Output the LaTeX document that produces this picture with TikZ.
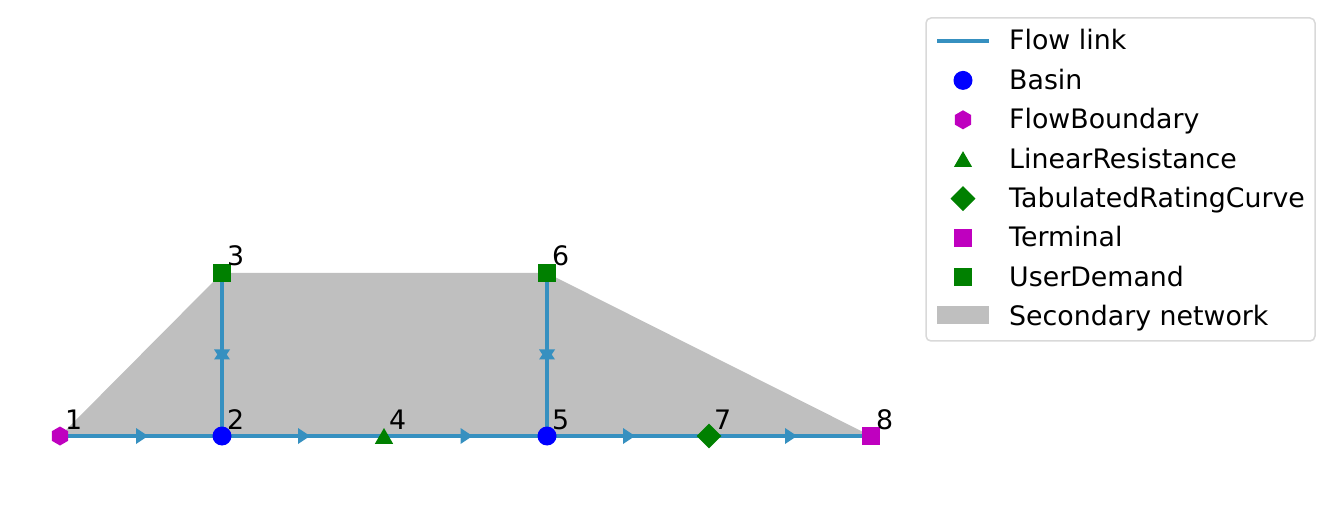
\documentclass[tikz,border=0pt]{standalone}
\usepackage{fontspec}
\setmainfont{DejaVu Sans}
\usepackage{xcolor}
\usepackage{tikz}
\usetikzlibrary{shapes.geometric, decorations.markings, backgrounds}
\definecolor{linkblue}{RGB}{54,144,192}
\definecolor{bndmag}{RGB}{191,0,191}
\definecolor{demgreen}{RGB}{0,128,0}
\definecolor{secgray}{RGB}{191,191,191}
\definecolor{legframe}{RGB}{217,217,217}

\begin{document}
\begin{tikzpicture}[x=1pt, y=-1pt,
        every node/.style={font=\fontsize{26.8}{32}\selectfont},
        num/.style={anchor=base west, xshift=5pt, yshift=7pt, inner sep=0pt},
        basin/.style={circle, fill=blue, minimum size=19pt, inner sep=0pt},
        boundary/.style={regular polygon, regular polygon sides=6, shape border rotate=30, fill=bndmag, minimum size=19pt, inner sep=0pt},
        resist/.style={regular polygon, regular polygon sides=3, fill=demgreen, minimum size=21pt, inner sep=0pt, yshift=-2.5pt},
        rating/.style={diamond, aspect=1, fill=demgreen, minimum size=25pt, inner sep=0pt},
        terminal/.style={rectangle, fill=bndmag, minimum size=18pt, inner sep=0pt},
        demand/.style={rectangle, fill=demgreen, minimum size=18pt, inner sep=0pt},
        link/.style={line width=4pt, linkblue, postaction={decorate},
            decoration={markings, mark=at position 0.5 with {\fill[linkblue] (7pt,0pt) -- (-5pt,8pt) -- (-5pt,-8pt) -- cycle;}}},
        legtext/.style={anchor=base west, inner sep=0pt}]
    \useasboundingbox (0,0) rectangle (1334,521);
    \node[boundary] (n1) at (60,436) {};
    \node[basin] (n2) at (222,436) {};
    \node[demand] (n3) at (222,273) {};
    \node[resist] (n4) at (384,436) {};
    \node[basin] (n5) at (547,436) {};
    \node[demand] (n6) at (547,273) {};
    \node[rating] (n7) at (709,436) {};
    \node[terminal] (n8) at (871,436) {};
    \foreach \i in {1,2,3,5,6,7,8}
        \node[num] (lab\i) at (n\i.center) {\i};
    \node[num] (lab4) at (n4.center |- n1.center) {4};
    \begin{scope}[on background layer]
        \fill[secgray] (n1.center) -- (n3.center) -- (n6.center) -- (n8.center) -- cycle;
        \foreach \a/\b in {n1/n2, n2/n4, n4/n5, n5/n7, n7/n8}
            \draw[link] (\a.center |- n1.center) -- (\b.center |- n1.center);
        \foreach \a/\b in {n2/n3, n3/n2, n5/n6, n6/n5}
            \draw[link] (\a.center) -- (\b.center);
    \end{scope}
    \draw[legframe, line width=1.5pt, rounded corners=5pt, fill=white] (926,18) rectangle (1315,341);
    \foreach \t [count=\i] in {Flow link, Basin, FlowBoundary, LinearResistance, TabulatedRatingCurve, Terminal, UserDemand, Secondary network}
        \node[legtext] (leg\i) at (1009,{50+39.4*(\i-1)}) {\t};
    \draw[linkblue, line width=4pt] (937,41) -- (989,41);
    \node[basin] (kbasin) at (963,80.4) {};
    \node[boundary] (kbnd) at (963,119.8) {};
    \node[resist] (kres) at (963,159.2) {};
    \node[rating] (krat) at (963,198.6) {};
    \node[terminal] (kterm) at (963,238) {};
    \node[demand] (kdem) at (963,277.4) {};
    \fill[secgray] (937,306) rectangle (989,324);
\end{tikzpicture}
\end{document}
